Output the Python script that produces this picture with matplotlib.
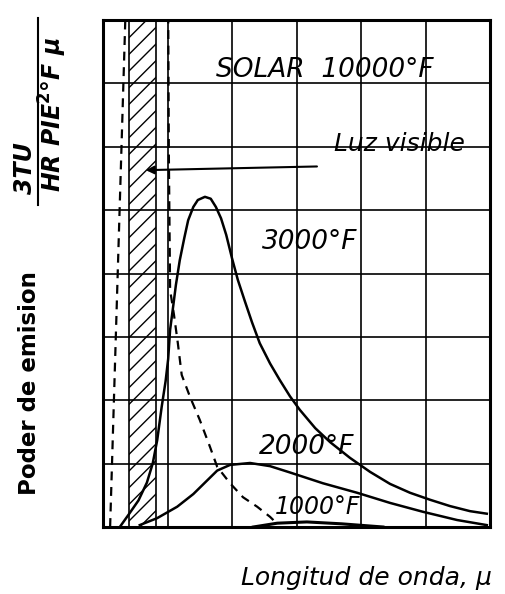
import numpy as np
import matplotlib.pyplot as plt

plt.rcParams["font.family"] = ["DejaVu Sans"]

# curves (x: wavelength, y: emissive power, grid units)
solar_x = [0.11, 0.36, 0.40, 1.00, 1.01, 1.02, 1.04, 1.10, 1.16, 1.22, 1.35, 1.50, 1.66, 1.77,
           1.97, 2.17, 2.39, 2.59, 2.67]
solar_y = [0.00, 8.50, 9.50, 9.50, 8.30, 5.95, 3.74, 3.35, 2.90, 2.40, 2.05, 1.69, 1.26, 0.95,
           0.69, 0.47, 0.32, 0.16, 0.08]

f3000_x = [0.26, 0.40, 0.55, 0.68, 0.77, 0.84, 0.91, 0.97, 1.01, 1.04, 1.09, 1.13, 1.19, 1.26,
           1.32, 1.40, 1.47, 1.58, 1.67, 1.75, 1.83, 1.91, 2.00, 2.09, 2.20, 2.31, 2.43, 2.59,
           2.74, 2.90, 3.05, 3.29, 3.52, 3.83, 4.14, 4.45, 4.76, 5.07, 5.38, 5.69, 5.95]
f3000_y = [0.00, 0.20, 0.42, 0.70, 1.00, 1.37, 1.90, 2.30, 2.65, 3.11, 3.50, 3.82, 4.21, 4.56,
           4.84, 5.05, 5.16, 5.21, 5.18, 5.05, 4.87, 4.61, 4.24, 3.90, 3.56, 3.23, 2.90, 2.58,
           2.32, 2.06, 1.85, 1.56, 1.34, 1.09, 0.87, 0.68, 0.54, 0.43, 0.33, 0.25, 0.21]

f2000_x = [0.57, 0.84, 1.15, 1.40, 1.61, 1.77, 1.97, 2.28, 2.59, 2.90, 3.41, 3.94, 4.45, 4.96,
           5.49, 5.95]
f2000_y = [0.03, 0.14, 0.32, 0.52, 0.73, 0.89, 0.98, 1.01, 0.96, 0.86, 0.69, 0.54, 0.38, 0.24,
           0.11, 0.03]

f1000_x = [2.33, 2.70, 3.16, 3.70, 4.34]
f1000_y = [0.00, 0.06, 0.08, 0.05, 0.00]

visible = (0.40, 0.82)

fig = plt.figure(figsize=(5.06, 5.94), dpi=100)
ax = fig.add_axes([0.2036, 0.1128, 0.7648, 0.8535])

ax.set_xlim(0, 6)
ax.set_ylim(0, 8)
ax.set_xticks(np.arange(0, 7))
ax.set_yticks(np.arange(0, 9))
ax.tick_params(length=0, labelbottom=False, labelleft=False)
ax.grid(True, color="black", linewidth=1.2)
for s in ax.spines.values():
    s.set_linewidth(2.2)

ax.axvspan(*visible, facecolor="none", edgecolor="black", hatch="//", linewidth=1.2)

ax.plot(solar_x, solar_y, color="black", lw=1.6, ls=(0, (4, 3)))
ax.plot(f3000_x, f3000_y, color="black", lw=1.8)
ax.plot(f2000_x, f2000_y, color="black", lw=1.8)
ax.plot(f1000_x, f1000_y, color="black", lw=2.2)

lab = dict(style="italic", fontsize=19, ha="center", va="center")
ax.text(3.44, 7.21, "SOLAR  10000°F", **lab)
ax.text(3.21, 4.50, "3000°F", **lab)
ax.text(3.16, 1.26, "2000°F", **lab)
ax.text(3.32, 0.32, "1000°F", style="italic", fontsize=17, ha="center", va="center")
ax.text(4.6, 5.86, "Luz visible", style="italic", fontsize=18, ha="center", va="bottom")
ax.annotate("", xy=(0.62, 5.63), xytext=(3.36, 5.69),
            arrowprops=dict(arrowstyle="-|>", color="black", lw=1.5, mutation_scale=12))

fig.text(366 / 506, 1 - 578 / 594, "Longitud de onda, μ", style="italic", fontsize=18,
         ha="center", va="center")
fig.text(30 / 506, 1 - 383 / 594, "Poder de emision", rotation=90, fontsize=16.5,
         fontweight="bold", ha="center", va="center")
fig.text(25 / 506, 1 - 168 / 594, "3TU", rotation=90, fontsize=17, style="italic",
         fontweight="bold", ha="center", va="center")
fig.text(53 / 506, 1 - 115 / 594, "HR PIE$^\\mathbf{2}$°F μ", rotation=90, fontsize=17,
         style="italic", fontweight="bold", ha="center", va="center")
fig.add_artist(plt.Line2D([38 / 506, 38 / 506], [1 - 205 / 594, 1 - 18 / 594],
                          color="black", lw=1.5))

fig.savefig("out.png", dpi=100)
